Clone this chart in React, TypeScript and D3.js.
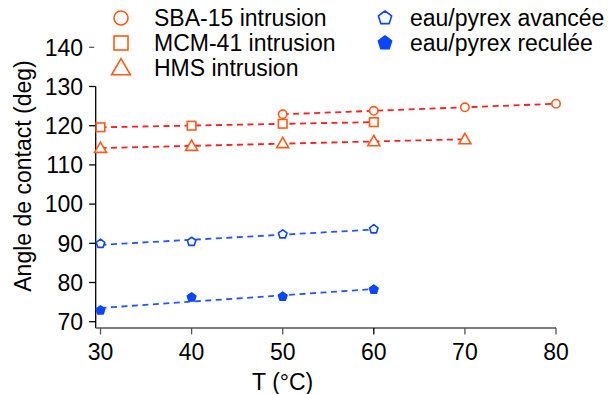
import React from "react";
import * as d3 from "d3";

const temps = [30, 40, 50, 60, 70, 80];
const sbaT = [50, 60, 70, 80];
const sbaAngle = [122.9, 123.8, 124.7, 125.6];
const mcmT = [30, 40, 50, 60];
const mcmAngle = [119.6, 120.0, 120.5, 120.9];
const hmsT = [30, 40, 50, 60, 70];
const hmsAngle = [114.3, 114.8, 115.5, 116.0, 116.5];
const avT = [30, 40, 50, 60];
const avAngle = [89.9, 90.4, 92.3, 93.6];
const recT = [30, 40, 50, 60];
const recAngle = [72.9, 76.2, 76.4, 78.2];
const yTicks = [70, 80, 90, 100, 110, 120, 130, 140];

const W = 611, H = 394;
const FONT = "'Liberation Sans', Arial, Helvetica, sans-serif";
const FS = 23;
const ORANGE = "#ff5a16";
const RED = "#ff1f1f";
const BLUE = "#0a45ff";
const BLUE_LINE = "#2457ff";

type Series = { name: string; t: number[]; v: number[]; shape: string; color: string; line: string; filled: boolean };

const series: Series[] = [
  { name: "SBA-15 intrusion", t: sbaT, v: sbaAngle, shape: "circle", color: ORANGE, line: RED, filled: false },
  { name: "MCM-41 intrusion", t: mcmT, v: mcmAngle, shape: "square", color: ORANGE, line: RED, filled: false },
  { name: "HMS intrusion", t: hmsT, v: hmsAngle, shape: "triangle", color: ORANGE, line: RED, filled: false },
  { name: "eau/pyrex avancée", t: avT, v: avAngle, shape: "pentagon", color: BLUE, line: BLUE_LINE, filled: false },
  { name: "eau/pyrex reculée", t: recT, v: recAngle, shape: "pentagon", color: BLUE, line: BLUE_LINE, filled: true },
];

function fit(t: number[], v: number[]) {
  const mx = d3.mean(t)!, my = d3.mean(v)!;
  let sxy = 0, sxx = 0;
  t.forEach((x, i) => { sxy += (x - mx) * (v[i] - my); sxx += (x - mx) * (x - mx); });
  const b = sxy / sxx;
  return (x: number) => my + b * (x - mx);
}

function Marker({ shape, x, y, size, color, filled, sw }: any) {
  const fill = filled ? color : "#fff";
  if (shape === "circle") return <circle cx={x} cy={y} r={size} fill={fill} stroke={color} strokeWidth={sw} />;
  if (shape === "square") return <rect x={x - size} y={y - size} width={size * 2} height={size * 2} fill={fill} stroke={color} strokeWidth={sw} />;
  if (shape === "triangle") {
    const s = size * 1.25;
    const pts = [[x, y - s], [x + s * 1.0, y + s * 0.72], [x - s * 1.0, y + s * 0.72]];
    return <polygon points={pts.map(p => p.join(",")).join(" ")} fill={fill} stroke={color} strokeWidth={sw} />;
  }
  const pts = d3.range(5).map(i => {
    const a = -Math.PI / 2 + (i * 2 * Math.PI) / 5;
    return [x + size * Math.cos(a), y + size * Math.sin(a)];
  });
  return <polygon points={pts.map(p => p.join(",")).join(" ")} fill={fill} stroke={color} strokeWidth={sw} strokeLinejoin="round" />;
}

export default function App() {
  const x = d3.scaleLinear().domain([30, 80]).range([100.5, 556]);
  const y = d3.scaleLinear().domain([70, 140]).range([321.7, 47.3]);
  const axisX = 95.7;
  const axisY = 328;

  return (
    <svg width={W} height={H} style={{ position: "absolute", left: 0, top: 0, background: "#fff" }} fontFamily={FONT}>
      {/* y axis */}
      <line x1={axisX} x2={axisX} y1={y(130)} y2={axisY} stroke="#000" strokeWidth={1.3} />
      {yTicks.map(v => (
        <g key={v}>
          <line x1={axisX - 6.5} x2={v === 140 ? axisX - 1.5 : axisX} y1={y(v)} y2={y(v)} stroke={v === 140 ? "#555" : "#000"} strokeWidth={1.3} />
          <text x={83} y={y(v)} dy="0.36em" textAnchor="end" fontSize={FS} fill="#000">{v}</text>
        </g>
      ))}
      {/* x axis */}
      <line x1={axisX} x2={x(80)} y1={axisY} y2={axisY} stroke="#555" strokeWidth={1.3} />
      {temps.map(t => (
        <g key={t}>
          <line x1={x(t)} x2={x(t)} y1={axisY} y2={axisY + 6.5} stroke={t === 60 ? "#000" : "#555"} strokeWidth={1.3} />
          <text x={x(t)} y={360} textAnchor="middle" fontSize={FS} fill="#000">{t}</text>
        </g>
      ))}
      <text x={x(50)} y={390} textAnchor="middle" fontSize={FS} fill="#000">T (°C)</text>
      <text transform={`translate(31,176) rotate(-90)`} textAnchor="middle" fontSize={FS} fill="#000">Angle de contact (deg)</text>

      {/* fit lines */}
      {series.map(s => {
        const f = fit(s.t, s.v);
        const x0 = d3.min(s.t)!, x1 = d3.max(s.t)!;
        return <line key={s.name + "fit"} x1={x(x0)} x2={x(x1)} y1={y(f(x0))} y2={y(f(x1))} stroke={s.line} strokeWidth={1.8} strokeDasharray="6,4.5" />;
      })}
      {/* markers */}
      {series.map(s => (
        <g key={s.name}>
          {s.t.map((t, i) => (
            <Marker key={i} shape={s.shape} x={x(t)} y={y(s.v[i])} size={s.shape === "square" ? 4.3 : s.shape === "triangle" ? 4.8 : s.shape === "circle" ? 4.2 : 4.5} color={s.color} filled={s.filled} sw={1.6} />
          ))}
        </g>
      ))}

      {/* legend */}
      {series.map((s, i) => {
        const col = i < 3 ? 0 : 1;
        const row = i < 3 ? i : i - 3;
        const mx = col === 0 ? 121 : 385;
        const tx = col === 0 ? 154 : 410;
        const by = 26 + row * 25;
        return (
          <g key={s.name + "leg"}>
            <Marker shape={s.shape} x={mx} y={by - 8} size={s.shape === "square" ? 7 : s.shape === "triangle" ? 7.5 : 7} color={s.color} filled={s.filled} sw={1.6} />
            <text x={tx} y={by} fontSize={FS} fill="#000">{s.name}</text>
          </g>
        );
      })}
    </svg>
  );
}
